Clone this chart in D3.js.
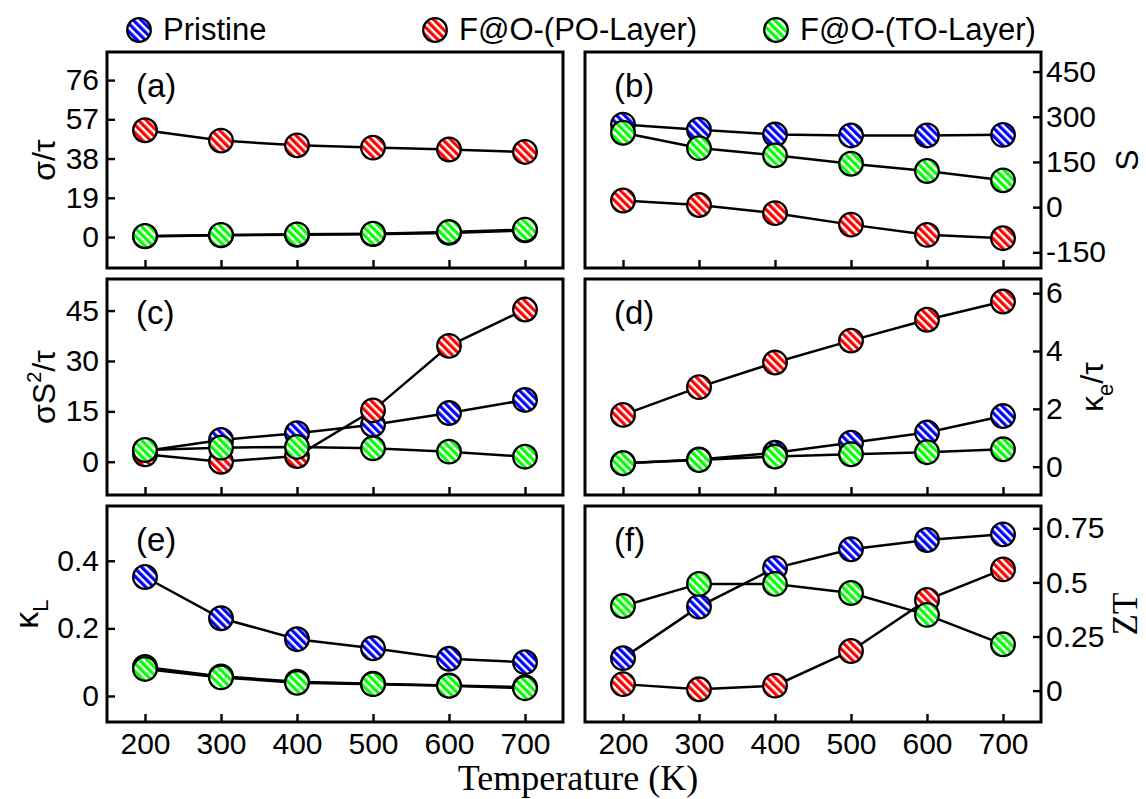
<!DOCTYPE html>
<html><head><meta charset="utf-8">
<script src="https://cdn.jsdelivr.net/npm/d3@7"></script>
<style>body{margin:0;background:#fff}</style></head>
<body>
<svg id="c" width="1146" height="799"></svg>
<script>
const temps = [200, 300, 400, 500, 600, 700];
const seriesNames = ["Pristine", "F@O-(PO-Layer)", "F@O-(TO-Layer)"];
const seriesColors = ["#0000ff", "#ff0000", "#00ff00"];
const xTicks = [200, 300, 400, 500, 600, 700];

// (a) sigma/tau
const sigmaPristine = [0.3, 0.8, 1.1, 1.4, 2.0, 3.2];
const sigmaPO = [51.7, 46.7, 44.4, 43.3, 42.4, 41.2];
const sigmaTO = [0.5, 1.0, 1.3, 1.6, 2.4, 3.6];
const sigmaTicks = [0, 19, 38, 57, 76];
// (b) S
const sPristine = [274, 257, 241, 238, 238, 240];
const sPO = [22, 7, -20, -58, -92, -103];
const sTO = [247, 196, 172, 144, 120, 89];
const sTicks = [-150, 0, 150, 300, 450];
// (c) sigma S^2 / tau
const pfPristine = [3.2, 6.5, 8.5, 11, 14.5, 18.4];
const pfPO = [2.2, 0.0, 1.7, 15.3, 34.5, 45.3];
const pfTO = [3.5, 4.2, 4.4, 4.0, 3.0, 1.5];
const pfTicks = [0, 15, 30, 45];
// (d) kappa_e / tau
const kePristine = [0.12, 0.25, 0.48, 0.83, 1.18, 1.75];
const kePO = [1.79, 2.75, 3.6, 4.36, 5.08, 5.71];
const keTO = [0.12, 0.23, 0.35, 0.43, 0.5, 0.6];
const keTicks = [0, 2, 4, 6];
// (e) kappa_L
const klPristine = [0.352, 0.23, 0.168, 0.141, 0.11, 0.10];
const klPO = [0.086, 0.058, 0.042, 0.036, 0.031, 0.026];
const klTO = [0.080, 0.055, 0.039, 0.035, 0.030, 0.023];
const klTicks = [0, 0.2, 0.4];
// (f) ZT
const ztPristine = [0.15, 0.388, 0.566, 0.653, 0.696, 0.722];
const ztPO = [0.03, 0.006, 0.023, 0.183, 0.419, 0.56];
const ztTO = [0.391, 0.493, 0.493, 0.451, 0.35, 0.214];
const ztTicks = [0, 0.25, 0.5, 0.75];

const svg = d3.select("#c");
const SANS = "'Liberation Sans', Arial, sans-serif";
const SERIF = "'Liberation Serif', 'Times New Roman', serif";

// hatch patterns
const defs = svg.append("defs");
seriesColors.forEach((c, i) => {
  const p = defs.append("pattern").attr("id", "hatch" + i)
    .attr("patternUnits", "userSpaceOnUse").attr("width", 5.6).attr("height", 5.6)
    .attr("patternTransform", "rotate(-45)");
  p.append("rect").attr("width", 5.6).attr("height", 5.6).attr("fill", "#fff");
  p.append("rect").attr("width", 3.2).attr("height", 5.6).attr("fill", c);
});

const cols = [{x0: 107, x1: 563}, {x0: 585, x1: 1041}];
const rows = [{y0: 52, y1: 268}, {y0: 279, y1: 495}, {y0: 506, y1: 722}];

const panels = [
  {lab: "(a)", col: 0, row: 0, data: [sigmaPristine, sigmaPO, sigmaTO], dom: [-15, 89.6], ticks: sigmaTicks, fmt: d => d, side: "left",
   title: [{t: "σ/τ"}], tx: 55, font: SANS, size: 32},
  {lab: "(b)", col: 1, row: 0, data: [sPristine, sPO, sTO], dom: [-202, 515], ticks: sTicks, fmt: d => d, side: "right",
   title: [{t: "S"}], tx: 1138, font: SANS, size: 32},
  {lab: "(c)", col: 0, row: 1, data: [pfPristine, pfPO, pfTO], dom: [-9.9, 54.4], ticks: pfTicks, fmt: d => d, side: "left",
   title: [{t: "σS"}, {t: "2", s: -14, fs: 20}, {t: "/τ"}], tx: 55, font: SANS, size: 32},
  {lab: "(d)", col: 1, row: 1, data: [kePristine, kePO, keTO], dom: [-0.98, 6.49], ticks: keTicks, fmt: d => d, side: "right",
   title: [{t: "κ"}, {t: "e", s: 10, fs: 22}, {t: "/τ"}], tx: 1103, font: SANS, size: 32},
  {lab: "(e)", col: 0, row: 2, data: [klPristine, klPO, klTO], dom: [-0.077, 0.562], ticks: klTicks, fmt: d => d === 0 ? "0" : d3.format(".1f")(d), side: "left",
   title: [{t: "κ"}, {t: "L", s: 10, fs: 22}], tx: 38, font: SANS, size: 34},
  {lab: "(f)", col: 1, row: 2, data: [ztPristine, ztPO, ztTO], dom: [-0.145, 0.853], ticks: ztTicks, fmt: d => d === 0 ? "0" : String(d), side: "right",
   title: [{t: "ZT"}], tx: 1137, font: SERIF, size: 35}
];

panels.forEach(P => {
  const c = cols[P.col], r = rows[P.row];
  const x = d3.scaleLinear().domain([150, 750]).range([c.x0, c.x1]);
  const y = d3.scaleLinear().domain(P.dom).range([r.y1, r.y0]);
  const g = svg.append("g");

  // x axis
  const xa = d3.axisBottom(x).tickValues(xTicks).tickSizeInner(-8).tickSizeOuter(0).tickPadding(11)
    .tickFormat(P.row === 2 ? d3.format("d") : () => "");
  const gx = g.append("g").attr("transform", `translate(0,${r.y1})`).call(xa);
  // y axis
  const ya = (P.side === "left" ? d3.axisLeft(y) : d3.axisRight(y))
    .tickValues(P.ticks).tickSizeInner(-8).tickSizeOuter(0).tickPadding(P.side === "left" ? 8 : 5).tickFormat(P.fmt);
  const gy = g.append("g").attr("transform", `translate(${P.side === "left" ? c.x0 : c.x1},0)`).call(ya);
  [gx, gy].forEach(a => {
    a.select(".domain").remove();
    a.selectAll("line").attr("stroke", "#000").attr("stroke-width", 2.4);
    a.selectAll("text").attr("fill", "#000").style("font-family", SANS).style("font-size", "30px");
  });

  // data
  const line = d3.line().x((d, i) => x(temps[i])).y(d => y(d));
  P.data.forEach((vals, si) => {
    g.append("path").attr("d", line(vals)).attr("fill", "none").attr("stroke", "#000").attr("stroke-width", 2.5);
    g.selectAll(null).data(vals).enter().append("circle")
      .attr("cx", (d, i) => x(temps[i])).attr("cy", d => y(d)).attr("r", 11.8)
      .attr("fill", `url(#hatch${si})`).attr("stroke", "#000").attr("stroke-width", 2.3);
  });

  // frame
  g.append("rect").attr("x", c.x0).attr("y", r.y0).attr("width", c.x1 - c.x0).attr("height", r.y1 - r.y0)
    .attr("fill", "none").attr("stroke", "#000").attr("stroke-width", 3);

  // panel label
  g.append("text").attr("x", c.x0 + 29).attr("y", r.y0 + 45).text(P.lab)
    .style("font-family", SANS).style("font-size", "33px").attr("fill", "#000");

  // axis title
  const cy = (r.y0 + r.y1) / 2;
  const t = svg.append("text").attr("transform", `translate(${P.tx},${cy}) rotate(-90)`)
    .attr("text-anchor", "middle").style("font-family", P.font).style("font-size", P.size + "px").attr("fill", "#000");
  let cur = 0;
  P.title.forEach(part => {
    const target = part.s || 0;
    const ts = t.append("tspan").text(part.t);
    if (target !== cur) ts.attr("dy", target - cur);
    if (part.fs) ts.style("font-size", part.fs + "px");
    cur = target;
  });
});

// legend
const legendX = [139, 435, 776];
seriesNames.forEach((n, i) => {
  svg.append("circle").attr("cx", legendX[i]).attr("cy", 30).attr("r", 11.8)
    .attr("fill", `url(#hatch${i})`).attr("stroke", "#000").attr("stroke-width", 2.3);
  svg.append("text").attr("x", legendX[i] + 24).attr("y", 40).text(n)
    .style("font-family", SANS).style("font-size", "31px").attr("fill", "#000");
});

// x title
svg.append("text").attr("x", 578).attr("y", 790).attr("text-anchor", "middle").text("Temperature (K)")
  .style("font-family", SERIF).style("font-size", "36px").attr("fill", "#000");
</script>
</body></html>
